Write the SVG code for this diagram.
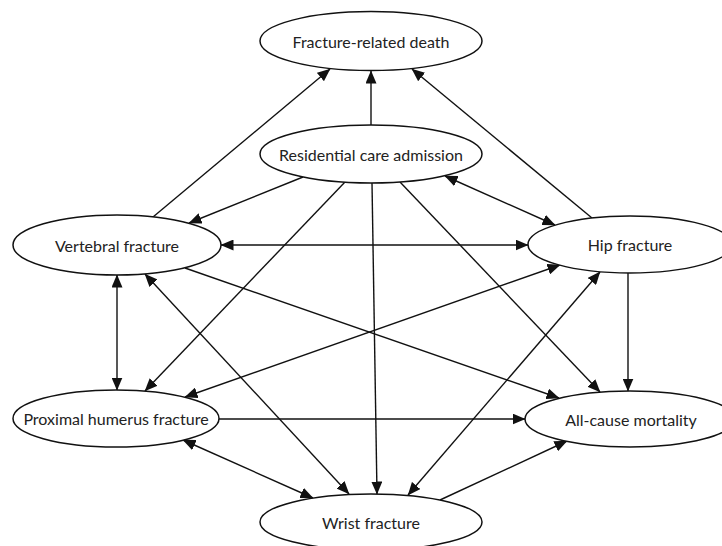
<svg xmlns="http://www.w3.org/2000/svg" width="722" height="546" viewBox="0 0 722 546">
<style>
.n ellipse{fill:#fff;stroke:#111;stroke-width:1.5}
.n text{font-family:Lato,"Noto Sans","Liberation Sans",sans-serif;font-size:16px;fill:#222;text-anchor:middle;dominant-baseline:central}
.e line{stroke:#111;stroke-width:1.4;fill:none}
.s{marker-end:url(#ah)}
.d{marker-end:url(#ah);marker-start:url(#ah)}
</style>
<defs>
<marker id="ah" markerUnits="userSpaceOnUse" markerWidth="13" markerHeight="11" refX="12.5" refY="5.5" orient="auto-start-reverse" viewBox="0 0 13 11">
<path d="M0,0 L13,5.5 L0,11 z" fill="#111"/>
</marker>
</defs>
<rect width="722" height="546" fill="#fff"/>
<g id="connectors" class="e">
<line class="s" x1="371" y1="125" x2="371" y2="71"/>
<line class="s" x1="153" y1="217" x2="330" y2="69"/>
<line class="s" x1="592" y1="218" x2="412" y2="69"/>
<line class="s" x1="303" y1="177" x2="189" y2="223"/>
<line class="d" x1="445" y1="176" x2="555" y2="225"/>
<line class="d" x1="221" y1="245" x2="528" y2="245"/>
<line class="d" x1="117" y1="275" x2="117" y2="390"/>
<line class="d" x1="145" y1="274" x2="349" y2="494"/>
<line class="s" x1="185" y1="268" x2="559" y2="398"/>
<line class="s" x1="345" y1="182" x2="145" y2="391"/>
<line class="s" x1="372" y1="183" x2="377" y2="494"/>
<line class="s" x1="400" y1="182" x2="600" y2="392"/>
<line class="s" x1="628" y1="273" x2="628" y2="391"/>
<line class="d" x1="185" y1="397" x2="560" y2="265"/>
<line class="d" x1="600" y1="272" x2="408" y2="495"/>
<line class="s" x1="219" y1="419" x2="525" y2="419"/>
<line class="d" x1="183" y1="440" x2="313" y2="498"/>
<line class="s" x1="440" y1="500" x2="567" y2="441"/>
</g>
<g id="frd" class="n"><ellipse cx="371" cy="41" rx="111" ry="29.5"/><text x="371" y="41">Fracture-related death</text></g>
<g id="rca" class="n"><ellipse cx="371" cy="154" rx="111" ry="29"/><text x="371" y="154">Residential care admission</text></g>
<g id="vf" class="n"><ellipse cx="117" cy="245" rx="104" ry="30"/><text x="117" y="245">Vertebral fracture</text></g>
<g id="hf" class="n"><ellipse cx="630" cy="244.5" rx="102" ry="28.5"/><text x="630" y="244.5">Hip fracture</text></g>
<g id="phf" class="n"><ellipse cx="116" cy="418.5" rx="103" ry="28.5"/><text x="116" y="418.5">Proximal humerus fracture</text></g>
<g id="acm" class="n"><ellipse cx="630" cy="419" rx="105" ry="28"/><text x="631" y="419">All-cause mortality</text></g>
<g id="wf" class="n"><ellipse cx="371" cy="522" rx="111" ry="28"/><text x="371" y="522">Wrist fracture</text></g>
</svg>
